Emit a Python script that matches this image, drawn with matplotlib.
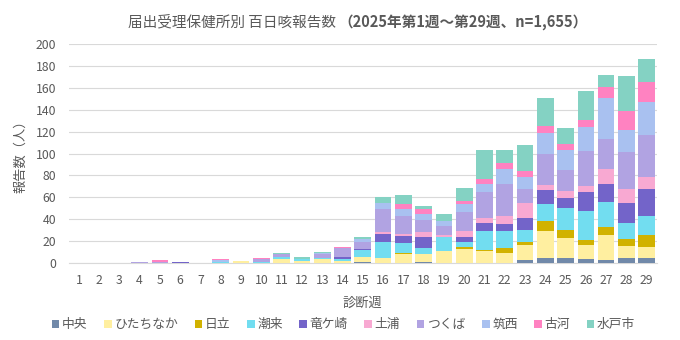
import matplotlib
matplotlib.use("Agg")
import matplotlib.pyplot as plt
import numpy as np

plt.rcParams['font.family'] = ['Noto Sans CJK JP', 'DejaVu Sans']

weeks = list(range(1, 30))
offices = ["中央", "ひたちなか", "日立", "潮来", "竜ケ崎", "土浦", "つくば", "筑西", "古河", "水戸市"]
colors = ["#7189A9", "#FFEFA0", "#D1B200", "#72DDF0", "#7364C9",
          "#F8A9D2", "#B1A3E2", "#A9C1F0", "#FF82C1", "#84D2C3"]

# counts per week (weeks 1..29)
chuo       = [0,0,0,0,0,0,0,0,0,0,0,0,0,0,1,0,0,1,0,0,0,0,3,5,5,4,3,5,5]
hitachinaka= [0,0,0,0,0,0,0,0,2,0,4,2,4,2,5,5,8,7,11,13,11,9,14,24,18,13,23,11,10]
hitachi    = [0,0,0,0,0,0,0,0,0,0,0,0,0,0,0,0,1,0,0,2,1,5,2,9,7,4,7,6,11]
itako      = [0,0,0,0,0,0,0,1,0,1,2,2,1,2,6,14,9,6,13,4,17,15,11,16,20,27,23,15,17]
ryugasaki  = [0,0,0,0,0,1,0,0,0,0,0,0,0,2,1,8,7,10,0,5,8,7,11,13,9,17,16,18,25]
tsuchiura  = [0,0,0,0,0,0,0,0,0,0,0,0,0,0,0,1,2,4,2,5,4,7,14,4,7,5,14,13,11]
tsukuba    = [0,0,0,1,1,0,0,0,0,3,2,0,3,8,6,21,16,11,8,18,24,29,13,29,19,32,27,33,38]
chikusei   = [0,0,0,0,0,0,0,2,0,0,0,0,1,0,3,6,6,6,4,7,7,14,11,19,18,22,38,20,30]
koga       = [0,0,0,0,2,0,0,1,0,1,0,0,0,1,0,0,5,4,0,3,5,5,5,6,6,7,10,18,18]
mito       = [0,0,0,0,0,0,0,0,0,0,1,2,1,0,2,5,8,3,7,12,26,12,24,26,14,26,11,32,21]

series = [chuo, hitachinaka, hitachi, itako, ryugasaki, tsuchiura, tsukuba, chikusei, koga, mito]

txt = "#595959"
fig = plt.figure(figsize=(6.8, 3.4), dpi=100)
ax = fig.add_axes([0.101, 0.226, 0.865, 0.645])

bottom = np.zeros(len(weeks))
for name, vals, c in zip(offices, series, colors):
    ax.bar(weeks, vals, width=0.82, bottom=bottom, color=c, label=name, zorder=3)
    bottom += np.array(vals)

ax.set_xlim(0.5, 29.5)
ax.set_ylim(0, 200)
ax.set_yticks(range(0, 201, 20))
ax.set_xticks(weeks)
ax.grid(axis='y', color="#D9D9D9", lw=0.8, zorder=0)
for s in ["top", "right", "left"]:
    ax.spines[s].set_visible(False)
ax.spines["bottom"].set_color("#D9D9D9")
ax.tick_params(length=0, labelsize=8.8, colors=txt)
ax.tick_params(axis='x', pad=8)
ax.tick_params(axis='y', pad=9)

ax.set_xlabel("診断週", fontsize=9.5, color=txt, labelpad=7)
ax.set_ylabel("報告数（人）", fontsize=9.5, color=txt, labelpad=6)

fig.text(336/680, 0.935, "届出受理保健所別 百日咳報告数", ha='right', va='center',
         fontsize=10.5, color=txt)
fig.text(338/680, 0.935, "（2025年第1週～第29週、n=1,655）", ha='left', va='center',
         fontsize=10.5, color=txt, fontweight='bold')

fig.legend(loc='center', bbox_to_anchor=(0.505, 0.045), ncol=10, frameon=False,
           fontsize=9.2, labelcolor=txt, handlelength=0.6, handleheight=0.6,
           handletextpad=0.2, columnspacing=1.3)

fig.savefig("out.png", dpi=100)
